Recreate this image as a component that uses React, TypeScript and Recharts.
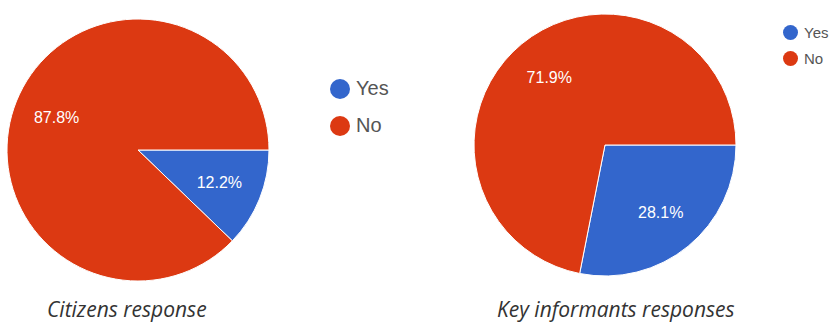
import { PieChart, Pie, Cell, Legend } from "recharts"

const answers = ["Yes", "No"]
const citizensShare = [12.2, 87.8]
const informantsShare = [28.1, 71.9]
const sliceColors = ["#3366CC", "#DC3912"]
const captions = ["Citizens response", "Key informants responses"]

const citizensData = answers.map((name, i) => ({ name, value: citizensShare[i] }))
const informantsData = answers.map((name, i) => ({ name, value: informantsShare[i] }))

const RADIAN = Math.PI / 180

function renderLabel(props: any) {
  const { cx, cy, midAngle, outerRadius, value } = props
  const r = outerRadius * 0.67
  const x = cx + r * Math.cos(-midAngle * RADIAN)
  const y = cy + r * Math.sin(-midAngle * RADIAN)
  return (
    <text
      x={x}
      y={y}
      fill="#fff"
      textAnchor="middle"
      dominantBaseline="central"
      fontSize={16}
      fontFamily="'Liberation Sans', Arial, sans-serif"
    >
      {`${value.toFixed(1)}%`}
    </text>
  )
}

function makeLegend(dot: number, fontSize: number, gap: number) {
  return (props: any) => {
    const items = [...(props.payload || [])].sort(
      (a: any, b: any) => answers.indexOf(a.value) - answers.indexOf(b.value)
    )
    return (
      <div style={{ fontFamily: "'Liberation Sans', Arial, sans-serif" }}>
        {items.map((entry: any) => (
          <div
            key={entry.value}
            style={{ display: "flex", alignItems: "center", height: gap }}
          >
            <span
              style={{
                width: dot,
                height: dot,
                borderRadius: "50%",
                background: entry.color,
                marginRight: 6,
                display: "inline-block",
              }}
            />
            <span style={{ color: "#555", fontSize }}>{entry.value}</span>
          </div>
        ))}
      </div>
    )
  }
}

function ResponsePie({
  data,
  width,
  cx,
  cy,
  radius,
  legend,
  legendPos,
}: {
  data: { name: string; value: number }[]
  width: number
  cx: number
  cy: number
  radius: number
  legend: (p: any) => any
  legendPos: { left: number; top: number }
}) {
  return (
    <PieChart width={width} height={300} margin={{ top: 0, right: 0, bottom: 0, left: 0 }}>
      <Pie
        data={data}
        dataKey="value"
        nameKey="name"
        cx={cx}
        cy={cy}
        outerRadius={radius}
        startAngle={0}
        endAngle={-360}
        stroke="#fff"
        strokeWidth={1}
        label={renderLabel}
        labelLine={false}
        isAnimationActive={false}
      >
        {data.map((d, i) => (
          <Cell key={d.name} fill={sliceColors[i]} />
        ))}
      </Pie>
      <Legend
        content={legend}
        wrapperStyle={{ position: "absolute", left: legendPos.left, top: legendPos.top, width: "auto" }}
      />
    </PieChart>
  )
}

const captionStyle = {
  position: "absolute" as const,
  top: 295,
  fontFamily: "'Open Sans', sans-serif",
  fontStyle: "italic",
  fontSize: 21,
  color: "#333",
  whiteSpace: "nowrap" as const,
}

export default function App() {
  return (
    <div
      style={{
        position: "absolute",
        left: 0,
        top: 0,
        width: 834,
        height: 329,
        background: "#fff",
        overflow: "hidden",
      }}
    >
      <div style={{ position: "absolute", left: 0, top: 0 }}>
        <ResponsePie
          data={citizensData}
          width={440}
          cx={138}
          cy={150}
          radius={131}
          legend={makeLegend(20, 20, 37)}
          legendPos={{ left: 330, top: 70 }}
        />
      </div>
      <div style={{ position: "absolute", left: 440, top: 0 }}>
        <ResponsePie
          data={informantsData}
          width={394}
          cx={165}
          cy={145}
          radius={131}
          legend={makeLegend(15, 15, 26)}
          legendPos={{ left: 343, top: 19 }}
        />
      </div>
      <div style={{ ...captionStyle, left: 47 }}>{captions[0]}</div>
      <div style={{ ...captionStyle, left: 497 }}>{captions[1]}</div>
    </div>
  )
}
